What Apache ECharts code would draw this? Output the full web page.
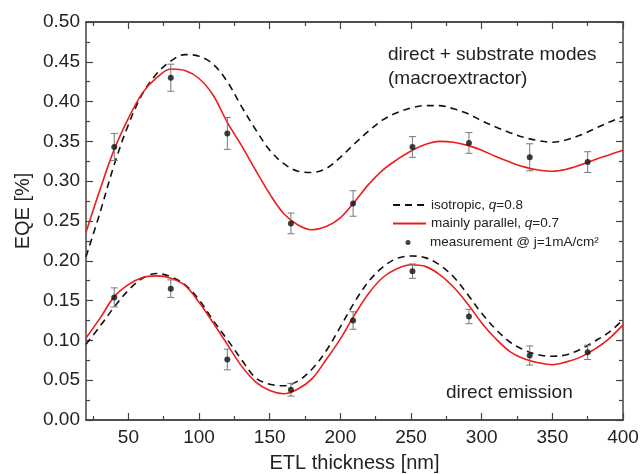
<!DOCTYPE html>
<html>
<head>
<meta charset="utf-8">
<script src="https://cdn.jsdelivr.net/npm/echarts@6/dist/echarts.min.js"></script>
<style>
  html, body { margin: 0; padding: 0; background: #fff; }
  #main { width: 640px; height: 474px; }
</style>
</head>
<body>
<div id="main"></div>
<script>
// ETL thickness grid for the simulated curves [nm]
var thickness = [20, 30, 40, 50, 60, 70, 80, 90, 100, 110, 120, 130, 140, 150, 160, 170, 180, 190, 200,
  210, 220, 230, 240, 250, 260, 270, 280, 290, 300, 310, 320, 330, 340, 350, 360, 370, 380, 390, 400];

// direct + substrate modes
var isoUpper = [0.205, 0.261, 0.321, 0.371, 0.410, 0.435, 0.451, 0.459, 0.457, 0.447, 0.425, 0.394, 0.365,
  0.339, 0.322, 0.3125, 0.311, 0.316, 0.330, 0.347, 0.363, 0.377, 0.386, 0.392, 0.395, 0.395, 0.391, 0.385,
  0.376, 0.368, 0.361, 0.355, 0.351, 0.349, 0.352, 0.358, 0.366, 0.374, 0.381];
var parUpper = [0.236, 0.290, 0.340, 0.379, 0.411, 0.430, 0.441, 0.439, 0.429, 0.408, 0.374, 0.345, 0.314,
  0.284, 0.259, 0.245, 0.239, 0.243, 0.254, 0.274, 0.296, 0.314, 0.327, 0.338, 0.346, 0.350, 0.349, 0.345,
  0.339, 0.331, 0.324, 0.318, 0.314, 0.3125, 0.315, 0.3205, 0.327, 0.333, 0.339];

// direct emission
var isoLower = [0.095, 0.118, 0.142, 0.163, 0.178, 0.184, 0.180, 0.170, 0.151, 0.125, 0.101, 0.076, 0.053,
  0.045, 0.043, 0.049, 0.064, 0.087, 0.117, 0.148, 0.174, 0.192, 0.203, 0.206, 0.204, 0.195, 0.180, 0.158,
  0.134, 0.114, 0.098, 0.088, 0.082, 0.080, 0.082, 0.089, 0.099, 0.110, 0.126];
var parLower = [0.103, 0.128, 0.155, 0.170, 0.179, 0.181, 0.178, 0.169, 0.148, 0.122, 0.095, 0.068, 0.048,
  0.037, 0.033, 0.039, 0.052, 0.076, 0.102, 0.132, 0.159, 0.179, 0.190, 0.195, 0.193, 0.183, 0.167, 0.146,
  0.122, 0.102, 0.086, 0.077, 0.072, 0.0695, 0.073, 0.079, 0.089, 0.102, 0.1195];

// measurements
var measX = [40, 80, 120, 165, 209, 251, 291, 334, 375];
var measUpper = [0.343, 0.430, 0.360, 0.247, 0.272, 0.343, 0.348, 0.330, 0.324];
var errUpper = [0.017, 0.017, 0.020, 0.013, 0.016, 0.013, 0.013, 0.017, 0.013];
var measLower = [0.154, 0.165, 0.076, 0.038, 0.125, 0.187, 0.130, 0.081, 0.085];
var errLower = [0.012, 0.011, 0.013, 0.008, 0.011, 0.009, 0.009, 0.012, 0.009];

var xMajor = [50, 100, 150, 200, 250, 300, 350, 400];
var xMinor = [25, 75, 125, 175, 225, 275, 325, 375];

var nameIso = 'isotropic, q=0.8';
var namePar = 'mainly parallel, q=0.7';
var nameMeas = 'measurement @ j=1mA/cm²';

var FONT = '"Liberation Sans", Arial, Helvetica, sans-serif';
var AXIS_COLOR = '#444';

function pairs(xs, ys) {
  return xs.map(function (x, i) { return [x, ys[i]]; });
}

var measData = pairs(measX, measUpper).concat(pairs(measX, measLower));
var errData = measX.map(function (x, i) {
  return [x, measUpper[i] - errUpper[i], measUpper[i] + errUpper[i]];
}).concat(measX.map(function (x, i) {
  return [x, measLower[i] - errLower[i], measLower[i] + errLower[i]];
}));

function renderErr(params, api) {
  var x = api.value(0);
  var lo = api.coord([x, api.value(1)]);
  var hi = api.coord([x, api.value(2)]);
  var w = 3.5;
  var st = { stroke: '#777', lineWidth: 1 };
  return {
    type: 'group',
    children: [
      { type: 'line', shape: { x1: lo[0], y1: lo[1], x2: hi[0], y2: hi[1] }, style: st },
      { type: 'line', shape: { x1: lo[0] - w, y1: lo[1], x2: lo[0] + w, y2: lo[1] }, style: st },
      { type: 'line', shape: { x1: hi[0] - w, y1: hi[1], x2: hi[0] + w, y2: hi[1] }, style: st }
    ]
  };
}

function legendFmt(name) {
  if (name === nameIso) return '{n|isotropic, }{i|q}{n|=0.8}';
  if (name === namePar) return '{n|mainly parallel, }{i|q}{n|=0.7}';
  return '{g| }{n|' + name + '}';
}

var legendText = {
  fontFamily: FONT, fontSize: 13.5, color: '#222',
  rich: {
    n: { fontFamily: FONT, fontSize: 13.5, color: '#222' },
    i: { fontFamily: FONT, fontSize: 13.5, color: '#222', fontStyle: 'italic' },
    g: { fontFamily: FONT, fontSize: 13.5, width: 14.5 }
  }
};

function makeLegend(name, top, left, w, h, hideSymbol) {
  var lg = {
    data: [name], orient: 'vertical', left: left, top: top, padding: 0,
    itemWidth: w, itemHeight: h, selectedMode: false,
    formatter: legendFmt, textStyle: legendText
  };
  if (hideSymbol) lg.itemStyle = { opacity: 0 };
  return lg;
}

function xAxisDef(pos, ticks, len, labels) {
  return {
    type: 'value', position: pos, min: 20, max: 400,
    axisLine: { show: true, lineStyle: { color: AXIS_COLOR, width: 1.5 } },
    axisTick: { show: true, inside: true, length: len, customValues: ticks,
      lineStyle: { color: AXIS_COLOR, width: 1.2 } },
    axisLabel: { show: labels, customValues: ticks, margin: 8, color: '#222',
      fontFamily: FONT, fontSize: 19 },
    splitLine: { show: false }
  };
}

function yAxisDef(pos, labels) {
  return {
    type: 'value', position: pos, min: 0, max: 0.5, interval: 0.05,
    axisLine: { show: true, lineStyle: { color: AXIS_COLOR, width: 1.5 } },
    axisTick: { show: true, inside: true, length: 7, lineStyle: { color: AXIS_COLOR, width: 1.2 } },
    minorTick: { show: true, splitNumber: 2, length: 4, lineStyle: { color: AXIS_COLOR, width: 1.2 } },
    axisLabel: { show: labels, margin: 6, color: '#222', fontFamily: FONT, fontSize: 19,
      formatter: function (v) { return v.toFixed(2); } },
    splitLine: { show: false },
    minorSplitLine: { show: false }
  };
}

var xBottom = xAxisDef('bottom', xMajor, 7, true);
xBottom.name = 'ETL thickness [nm]';
xBottom.nameLocation = 'middle';
xBottom.nameGap = 33;
xBottom.nameMoveOverlap = false;
xBottom.nameTextStyle = { fontFamily: FONT, fontSize: 20, color: '#222' };

var yLeft = yAxisDef('left', true);
yLeft.name = 'EQE [%]';
yLeft.nameLocation = 'middle';
yLeft.nameGap = 53;
yLeft.nameMoveOverlap = false;
yLeft.nameTextStyle = { fontFamily: FONT, fontSize: 20, color: '#222', padding: [0, 0, 0, 20] };

var lineBase = { type: 'line', smooth: 0.35, symbol: 'none', showSymbol: false, silent: true,
  xAxisIndex: 0, yAxisIndex: 0 };

function curve(name, data, color, dashed, z) {
  var s = Object.assign({}, lineBase);
  s.name = name;
  s.data = data;
  s.z = z;
  s.lineStyle = { color: color, width: 1.6, type: dashed ? [7, 5] : 'solid' };
  s.itemStyle = { color: color };
  return s;
}

var myChart = echarts.init(document.getElementById('main'), null, { renderer: 'canvas' });

var option = {
  backgroundColor: '#fff',
  animation: false,
  grid: { left: 86, right: 17, top: 22, bottom: 54, containLabel: false, outerBoundsMode: 'none' },
  legend: [
    makeLegend(nameIso, 198, 392, 33, 2, true),
    makeLegend(namePar, 216.5, 392, 33, 2, true),
    makeLegend(nameMeas, 235.5, 405.5, 5, 5, false)
  ],
  xAxis: [
    xBottom,
    xAxisDef('bottom', xMinor, 4, false),
    xAxisDef('top', xMajor, 7, false),
    xAxisDef('top', xMinor, 4, false)
  ],
  yAxis: [yLeft, yAxisDef('right', false)],
  graphic: [
    { type: 'text', left: 388, top: 43, silent: true,
      style: { text: 'direct + substrate modes\n(macroextractor)', fontFamily: FONT, fontSize: 19,
        lineHeight: 24, fill: '#222' } },
    { type: 'text', left: 446, top: 381, silent: true,
      style: { text: 'direct emission', fontFamily: FONT, fontSize: 19, lineHeight: 24, fill: '#222' } }
  ],
  series: [
    curve(nameIso, pairs(thickness, isoUpper), '#111', true, 2),
    curve(nameIso, pairs(thickness, isoLower), '#111', true, 2),
    curve(namePar, pairs(thickness, parUpper), '#ee1c1c', false, 3),
    curve(namePar, pairs(thickness, parLower), '#ee1c1c', false, 3),
    {
      type: 'custom', name: 'err', renderItem: renderErr, data: errData, silent: true,
      encode: { x: 0, y: [1, 2] }, z: 4
    },
    {
      type: 'scatter', name: nameMeas, data: measData, symbol: 'circle', symbolSize: 6,
      itemStyle: { color: '#111' }, silent: true, z: 5
    }
  ]
};

myChart.setOption(option);
</script>
</body>
</html>
